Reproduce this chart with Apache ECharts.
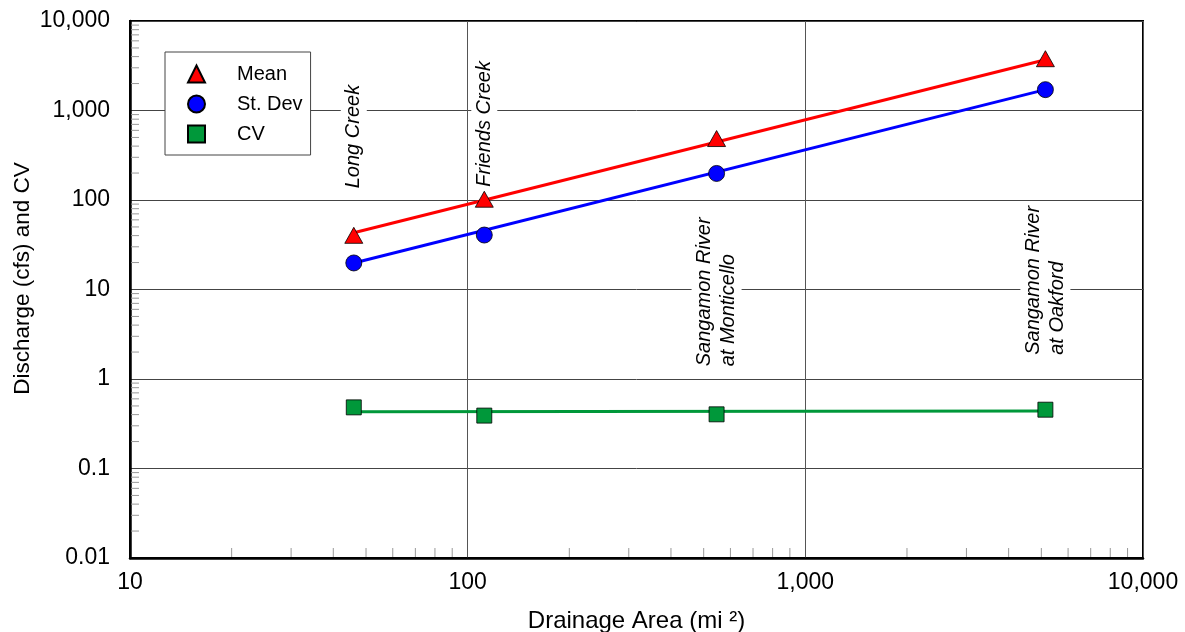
<!DOCTYPE html>
<html><head><meta charset="utf-8">
<script src="https://cdn.jsdelivr.net/npm/echarts@6/dist/echarts.min.js"></script>
<style>html,body{margin:0;padding:0;background:#fff}#c{width:1185px;height:632px}</style>
</head><body><div id="c"></div>
<script>
// ---- data ----
const sites = ['Long Creek', 'Friends Creek', 'Sangamon River\nat Monticello', 'Sangamon River\nat Oakford'];
const drainageArea = [46, 112, 546, 5140];
const meanQ = [40.3, 102, 486, 3790];
const stDev = [19.8, 40.6, 198, 1710];
const cv = [0.482, 0.39, 0.403, 0.454];
// fitted lines (end points)
const fitArea = [46, 5140];
const meanFit = [43.1, 3690];
const stDevFit = [19.8, 1710];
const cvFit = [0.43, 0.44];
// site label anchors (value on the y axis where each label starts)
const siteLabelY = [122, 127, 1.25, 1.68];
// tick labels
const xTickLabels = ['10', '100', '1,000', '10,000'];
const yTickLabels = ['0.01', '0.1', '1', '10', '100', '1,000', '10,000'];
const xMinorTicks = [20,30,40,50,60,70,80,90,200,300,400,500,600,700,800,900,2000,3000,4000,5000,6000,7000,8000,9000];
const yMinorTicks = [0.02,0.03,0.04,0.05,0.06,0.07,0.08,0.09,0.2,0.3,0.4,0.5,0.6,0.7,0.8,0.9,2,3,4,5,6,7,8,9,
  20,30,40,50,60,70,80,90,200,300,400,500,600,700,800,900,2000,3000,4000,5000,6000,7000,8000,9000];

const FONT = 'Liberation Sans, Arial, sans-serif';
const RED = '#ff0000', BLUE = '#0000ff', GREEN = '#00983a';

function pairs(xs, ys) { return xs.map((x, i) => [x, ys[i]]); }
function tickFmt(labels, offset) {
  return function (v) { const k = Math.round(Math.log10(v)) + offset; return labels[k] !== undefined ? labels[k] : ''; };
}

const chart = echarts.init(document.getElementById('c'), null, { renderer: 'canvas' });
chart.setOption({
  animation: false,
  backgroundColor: '#fff',
  textStyle: { fontFamily: FONT, color: '#000' },
  grid: { left: 130, right: 42, top: 21, bottom: 74, containLabel: false, outerBoundsMode: 'none',
    show: true, borderColor: '#000', borderWidth: 2, backgroundColor: 'transparent' },
  legend: {
    orient: 'vertical', left: 165, top: 52,
    data: ['Mean', 'St. Dev', 'CV'],
    itemWidth: 17, itemHeight: 17, itemGap: 10,
    padding: [12, 8, 11, 22],
    backgroundColor: '#fff', borderColor: '#444', borderWidth: 1, borderRadius: 0,
    textStyle: { fontFamily: FONT, fontSize: 20, color: '#000', padding: [0, 0, 0, 27] },
    selectedMode: false
  },
  xAxis: {
    type: 'log', logBase: 10, min: 10, max: 10000, splitNumber: 3,
    name: 'Drainage Area (mi \u00B2)', nameLocation: 'middle', nameGap: 51, nameMoveOverlap: false,
    nameTextStyle: { fontFamily: FONT, fontSize: 24, color: '#000' },
    axisLine: { show: true, onZero: false, lineStyle: { color: '#000', width: 2.5 } },
    axisTick: { show: false },
    axisLabel: { fontFamily: FONT, fontSize: 23, color: '#000', margin: 13, formatter: tickFmt(xTickLabels, -1), showMinLabel: true, showMaxLabel: true },
    splitLine: { show: true, lineStyle: { color: '#555', width: 1 } },
    minorTick: { show: false }, minorSplitLine: { show: false }
  },
  yAxis: {
    type: 'log', logBase: 10, min: 0.01, max: 10000, splitNumber: 6,
    name: 'Discharge (cfs) and CV', nameLocation: 'middle', nameGap: 96, nameRotate: 90, nameMoveOverlap: false,
    nameTextStyle: { fontFamily: FONT, fontSize: 22.5, color: '#000', padding: [0, 0, 0, 22] },
    axisLine: { show: true, onZero: false, lineStyle: { color: '#000', width: 2.5 } },
    axisTick: { show: false },
    axisLabel: { fontFamily: FONT, fontSize: 23, color: '#000', margin: 20, formatter: tickFmt(yTickLabels, 2), showMinLabel: true, showMaxLabel: true },
    splitLine: { show: true, lineStyle: { color: '#444', width: 1 } },
    minorTick: { show: false }, minorSplitLine: { show: false }
  },
  series: [
    {
      name: 'xMinor', type: 'custom', silent: true, z: 1,
      data: xMinorTicks.map(v => [v, 0.01]),
      renderItem: function (params, api) {
        const p = api.coord([api.value(0), api.value(1)]);
        return { type: 'line', shape: { x1: p[0], y1: p[1] - 1, x2: p[0], y2: p[1] - 10 }, style: { stroke: '#999', lineWidth: 1 } };
      }
    },
    {
      name: 'yMinor', type: 'custom', silent: true, z: 1,
      data: yMinorTicks.map(v => [10, v]),
      renderItem: function (params, api) {
        const p = api.coord([api.value(0), api.value(1)]);
        return { type: 'line', shape: { x1: p[0] + 1, y1: p[1], x2: p[0] + 9, y2: p[1] }, style: { stroke: '#999', lineWidth: 1 } };
      }
    },
    {
      name: 'labels', type: 'scatter', silent: true, z: 3,
      symbolSize: 1, itemStyle: { opacity: 0 },
      data: drainageArea.map((x, i) => ({ value: [x, siteLabelY[i]], name: sites[i] })),
      label: {
        show: true, position: 'inside', align: 'left', verticalAlign: 'middle', rotate: 90,
        formatter: p => p.name,
        fontFamily: FONT, fontStyle: 'italic', fontSize: 20, lineHeight: 24, color: '#000',
        backgroundColor: '#fff', padding: [1, 4, 1, 4], opacity: 1
      },
      emphasis: { disabled: true }
    },
    { name: 'Mean fit', type: 'line', data: pairs(fitArea, meanFit), symbol: 'none', z: 4, lineStyle: { color: RED, width: 3 } },
    { name: 'St. Dev fit', type: 'line', data: pairs(fitArea, stDevFit), symbol: 'none', z: 4, lineStyle: { color: BLUE, width: 3 } },
    { name: 'CV fit', type: 'line', data: pairs(fitArea, cvFit), symbol: 'none', z: 4, lineStyle: { color: GREEN, width: 3 } },
    { name: 'Mean', type: 'scatter', data: pairs(drainageArea, meanQ), symbol: 'triangle', symbolSize: [18, 16], z: 5,
      itemStyle: { color: RED, borderColor: '#000', borderWidth: 0.8, opacity: 1 } },
    { name: 'St. Dev', type: 'scatter', data: pairs(drainageArea, stDev), symbol: 'circle', symbolSize: 16, z: 5,
      itemStyle: { color: BLUE, borderColor: '#000', borderWidth: 0.8, opacity: 1 } },
    { name: 'CV', type: 'scatter', data: pairs(drainageArea, cv), symbol: 'rect', symbolSize: 15, z: 5,
      itemStyle: { color: GREEN, borderColor: '#000', borderWidth: 0.8, opacity: 1 } }
  ]
});
</script>
</body></html>
